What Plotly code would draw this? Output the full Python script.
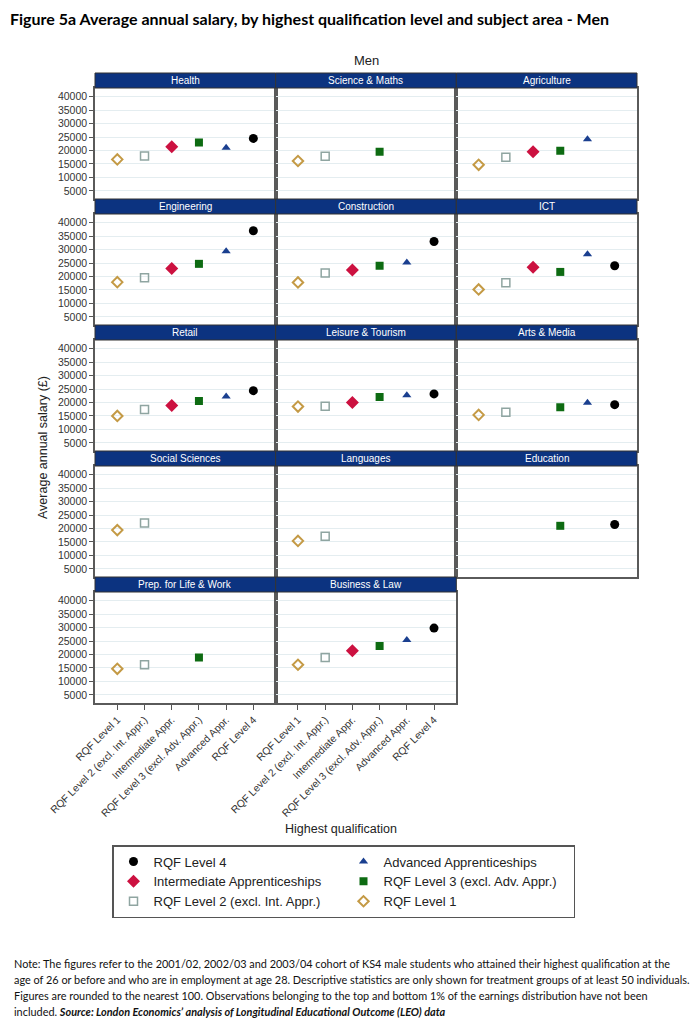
import plotly.graph_objects as go

# ---------------- data ----------------
subjects = ["Health", "Science & Maths", "Agriculture",
            "Engineering", "Construction", "ICT",
            "Retail", "Leisure & Tourism", "Arts & Media",
            "Social Sciences", "Languages", "Education",
            "Prep. for Life & Work", "Business & Law"]

levels = ["RQF Level 1", "RQF Level 2 (excl. Int. Appr.)", "Intermediate Appr.",
          "RQF Level 3 (excl. Adv. Appr.)", "Advanced Appr.", "RQF Level 4"]

rqf1 = [16700, 16100, 14700, 17900, 17800, 15200, 15000, 18500, 15400, 19400, 15400, None, 14700, 16200]
rqf2 = [18000, 17900, 17500, 19500, 21300, 17700, 17400, 18600, 16400, 22000, 17100, None, 16200, 18900]
int_appr = [21400, None, 19500, 23000, 22400, 23400, 18900, 20000, None, None, None, None, None, 21400]
rqf3 = [23000, 19500, 19900, 24700, 24000, 21700, 20600, 22000, 18200, None, None, 21000, 18900, 23200]
adv_appr = [21000, None, 24200, 29400, 25200, 28300, 22200, 22700, 19900, None, None, None, None, 25400]
rqf4 = [24500, None, None, 37000, 33000, 24000, 24400, 23200, 19200, None, None, 21500, None, 29800]

legend_names = ["RQF Level 4", "Advanced Apprenticeships", "Intermediate Apprenticeships",
                "RQF Level 3 (excl. Adv. Appr.)", "RQF Level 2 (excl. Int. Appr.)", "RQF Level 1"]

y_ticks = [5000, 10000, 15000, 20000, 25000, 30000, 35000, 40000]

note_lines = [
    "Note: The figures refer to the 2001/02, 2002/03 and 2003/04 cohort of KS4 male students who attained their highest qualification at the",
    "age of 26 or before and who are in employment at age 28. Descriptive statistics are only shown for treatment groups of at least 50 individuals.",
    "Figures are rounded to the nearest 100. Observations belonging to the top and bottom 1% of the earnings distribution have not been",
    "included. <b><i>Source: London Economics\u2019 analysis of Longitudinal Educational Outcome (LEO) data</i></b>",
]

# series: (legend name, values, level index, marker style)
series = [
    (legend_names[0], rqf4, 5, dict(symbol="circle", size=9, color="#000000")),
    (legend_names[1], adv_appr, 4, dict(symbol="triangle-up", size=8, color="#1a3f8f")),
    (legend_names[2], int_appr, 2, dict(symbol="diamond", size=10, color="#cc1140")),
    (legend_names[3], rqf3, 3, dict(symbol="square", size=8, color="#0d6b12")),
    (legend_names[4], rqf2, 1, dict(symbol="square-open", size=8, color="#8fa5a1", line=dict(width=1.5))),
    (legend_names[5], rqf1, 0, dict(symbol="diamond-open", size=8, color="#c49a45", line=dict(width=2))),
]

# ---------------- geometry (page pixels; the page body adds an 8px offset) ----------------
OFF = 8
W, H = 700 - OFF, 1024 - OFF
PLOT_L, PLOT_R, PLOT_T, PLOT_B = 95, 637, 88, 703   # page px
ML, MR, MT, MB = PLOT_L - OFF, W - (PLOT_R - OFF), PLOT_T - OFF, H - (PLOT_B - OFF)
PW, PH = W - ML - MR, H - MT - MB
PLOT_H, HEAD_H = 111, 15
STEP = PLOT_H + HEAD_H

FONT = "Liberation Sans, Arial, sans-serif"
NAVY = "#0c3380"
BORDER = "#5a5a5a"

fig = go.Figure()
layout = {}
shapes = []
annotations = []

for i, subj in enumerate(subjects):
    row, col = divmod(i, 3)
    n = i + 1
    xs = "" if n == 1 else str(n)
    top = (PH - row * STEP) / PH
    bot = (PH - row * STEP - PLOT_H) / PH
    is_left = col == 0
    is_bottom = row == 4
    layout["xaxis" + xs] = dict(
        domain=[col / 3, (col + 1) / 3], anchor="y" + xs,
        type="category", categoryorder="array", categoryarray=levels,
        range=[-0.82, 5.82], showgrid=False, zeroline=False,
        showline=True, mirror=True, linecolor=BORDER, linewidth=1.5,
        ticks="outside" if is_bottom else "", ticklen=5, tickcolor="#555",
        showticklabels=is_bottom, tickangle=-45,
        tickfont=dict(family=FONT, size=10.3, color="#333"),
    )
    layout["yaxis" + xs] = dict(
        domain=[bot, top], anchor="x" + xs,
        range=[2000, 43200], tickvals=y_ticks, tickformat="d",
        showgrid=True, gridcolor="#e4edf0", gridwidth=1, zeroline=False,
        showline=True, mirror=True, linecolor=BORDER, linewidth=1.5,
        ticks="outside" if is_left else "", ticklen=4, tickcolor="#555",
        showticklabels=is_left,
        tickfont=dict(family=FONT, size=10.5, color="#333"),
    )
    shapes.append(dict(type="rect", xref="x" + xs + " domain", yref="y" + xs + " domain",
                       x0=0, x1=1, y0=1, y1=1 + HEAD_H / PLOT_H,
                       fillcolor=NAVY, line=dict(color="#333", width=1), layer="above"))
    annotations.append(dict(text=subj, xref="x" + xs + " domain", yref="y" + xs + " domain",
                            x=0.5, y=1 + (HEAD_H / 2) / PLOT_H, showarrow=False,
                            xanchor="center", yanchor="middle",
                            font=dict(family=FONT, size=10, color="white")))

for rank, (name, vals, lvl, mk) in enumerate(series):
    first = True
    for i, v in enumerate(vals):
        if v is None:
            continue
        n = i + 1
        xs = "" if n == 1 else str(n)
        fig.add_trace(go.Scatter(
            x=[levels[lvl]], y=[v], mode="markers", name=name,
            legendgroup=name, showlegend=first, legendrank=rank + 1,
            marker=mk, xaxis="x" + xs, yaxis="y" + xs,
            hovertemplate=subjects[i] + "<br>" + name + ": %{y}<extra></extra>",
        ))
        first = False


def px_x(px):
    return (px - PLOT_L) / PW


def px_y(py):
    return (PLOT_B - py) / PH


annotations += [
    dict(text="<b>Figure 5a Average annual salary, by highest qualification level and subject area - Men</b>",
         xref="paper", yref="paper", x=px_x(8), y=px_y(18), xanchor="left", yanchor="middle",
         showarrow=False, font=dict(family="Lato, sans-serif", size=16, color="#000")),
    dict(text="Men", xref="paper", yref="paper", x=0.5, y=px_y(61), xanchor="center", yanchor="middle",
         showarrow=False, font=dict(family=FONT, size=13, color="#222")),
    dict(text="Highest qualification", xref="paper", yref="paper", x=px_x(341), y=px_y(829),
         xanchor="center", yanchor="middle", showarrow=False,
         font=dict(family=FONT, size=12.5, color="#222")),
    dict(text="Average annual salary (\u00a3)", xref="paper", yref="paper", x=px_x(43), y=px_y(448),
         xanchor="center", yanchor="middle", textangle=-90, showarrow=False,
         font=dict(family=FONT, size=12.5, color="#222")),
]

for k, line in enumerate(note_lines):
    annotations.append(dict(text=line, xref="paper", yref="paper", x=px_x(12), y=px_y(963 + 16 * k),
                            xanchor="left", yanchor="middle", showarrow=False,
                            font=dict(family="Lato, sans-serif", size=10.9, color="#111")))

fig.update_layout(
    width=W, height=H, autosize=False,
    margin=dict(l=ML, r=MR, t=MT, b=MB),
    paper_bgcolor="white", plot_bgcolor="white",
    showlegend=True,
    legend=dict(orientation="h", x=px_x(112), xanchor="left", y=px_y(845), yanchor="top",
                entrywidth=185, bordercolor="#555", borderwidth=1.5, bgcolor="white",
                font=dict(family=FONT, size=13, color="#222"), traceorder="normal"),
    shapes=shapes, annotations=annotations,
    **layout,
)

fig.write_html("out.html")
